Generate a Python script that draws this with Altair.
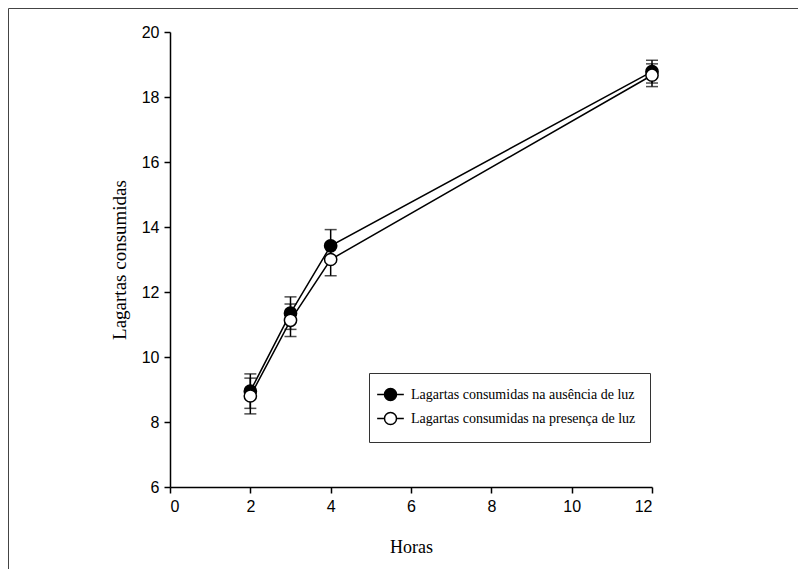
import altair as alt
import pandas as pd

hours = [2, 3, 4, 12]
series_names = ["Lagartas consumidas na ausência de luz",
                "Lagartas consumidas na presença de luz"]
absence_mean = [8.95, 11.35, 13.42, 18.78]
absence_se = [0.53, 0.50, 0.50, 0.35]
presence_mean = [8.80, 11.13, 13.00, 18.67]
presence_se = [0.55, 0.50, 0.50, 0.35]

x_ticks = [0, 2, 4, 6, 8, 10, 12]
y_ticks = [6, 8, 10, 12, 14, 16, 18, 20]

rows = []
for name, means, ses in [(series_names[0], absence_mean, absence_se),
                         (series_names[1], presence_mean, presence_se)]:
    for h, m, s in zip(hours, means, ses):
        rows.append({"Horas": h, "valor": m, "se": s, "serie": name})
df = pd.DataFrame(rows)

W, H = 482, 455
PAD = {"left": 162, "top": 24, "right": 146, "bottom": 82}

xs = alt.Scale(domain=[0, 12], nice=False, zero=False)
ys = alt.Scale(domain=[6, 20], nice=False, zero=False)

base = alt.Chart(df).transform_calculate(
    lo="datum.valor - datum.se", hi="datum.valor + datum.se"
)

x_enc = alt.X("Horas:Q", scale=xs, axis=alt.Axis(
    values=x_ticks, title="Horas", format="d", titlePadding=24))
y_enc = alt.Y("valor:Q", scale=ys, axis=alt.Axis(
    values=y_ticks, title="Lagartas consumidas", format="d", titlePadding=12,
    titleFontSize=19))

lines = base.mark_line(color="black", strokeWidth=1.5).encode(
    x=x_enc, y=y_enc, detail="serie:N"
)

err = base.mark_rule(color="black", strokeWidth=1.5).encode(
    x="Horas:Q", y=alt.Y("lo:Q", scale=ys), y2="hi:Q"
)
cap_lo = base.mark_tick(color="black", thickness=1.5, size=12, orient="horizontal").encode(
    x="Horas:Q", y=alt.Y("lo:Q", scale=ys)
)
cap_hi = base.mark_tick(color="black", thickness=1.5, size=12, orient="horizontal").encode(
    x="Horas:Q", y=alt.Y("hi:Q", scale=ys)
)

legend_symbol = ("M-2,0L-0.9,0M0.9,0L2,0M0.9,0"
                 "A0.9,0.9,0,1,1,-0.9,0A0.9,0.9,0,1,1,0.9,0Z")

points = base.mark_point(shape="circle", size=150, stroke="black",
                         strokeWidth=1.5, opacity=1, filled=False).encode(
    x="Horas:Q",
    y="valor:Q",
    fill=alt.Fill("serie:N",
                  scale=alt.Scale(domain=series_names, range=["black", "white"]),
                  legend=alt.Legend(
                      title=None, orient="none", legendX=199, legendY=341,
                      symbolType=legend_symbol, symbolSize=178,
                      symbolStrokeColor="black", symbolStrokeWidth=1.5,
                      symbolOpacity=1,
                      labelFont="Liberation Serif", labelFontSize=14,
                      labelColor="black", labelLimit=0, labelOffset=13,
                      padding=14, rowPadding=5,
                      strokeColor="#333", fillColor="white",
                  )),
)

frame_data = alt.Data(values=[{"k": 1}])
frame_left = alt.Chart(frame_data).mark_rule(color="#444", strokeWidth=1).encode(
    x=alt.value(-PAD["left"] + 0.5), y=alt.value(-PAD["top"] + 0.5),
    y2=alt.value(H + PAD["bottom"]))
frame_top = alt.Chart(frame_data).mark_rule(color="#444", strokeWidth=1).encode(
    x=alt.value(-PAD["left"] + 0.5), x2=alt.value(W + PAD["right"] + 10),
    y=alt.value(-PAD["top"] + 0.5))

chart = alt.layer(lines, err, cap_lo, cap_hi, points, frame_left, frame_top).properties(
    width=W, height=H, padding=PAD, autosize=alt.AutoSizeParams(type="none"),
    background="white",
).configure_view(stroke=None).configure_axis(
    grid=False, domainColor="black", domainWidth=1.5, tickColor="black",
    tickWidth=1.5, tickSize=6, labelFont="Liberation Sans",
    labelFontSize=16, labelColor="black", labelPadding=5,
    titleFont="Liberation Serif", titleFontSize=18, titleFontWeight="normal",
    titleColor="black",
)

chart.save("out.html", embed_options={"renderer": "svg", "actions": False})
